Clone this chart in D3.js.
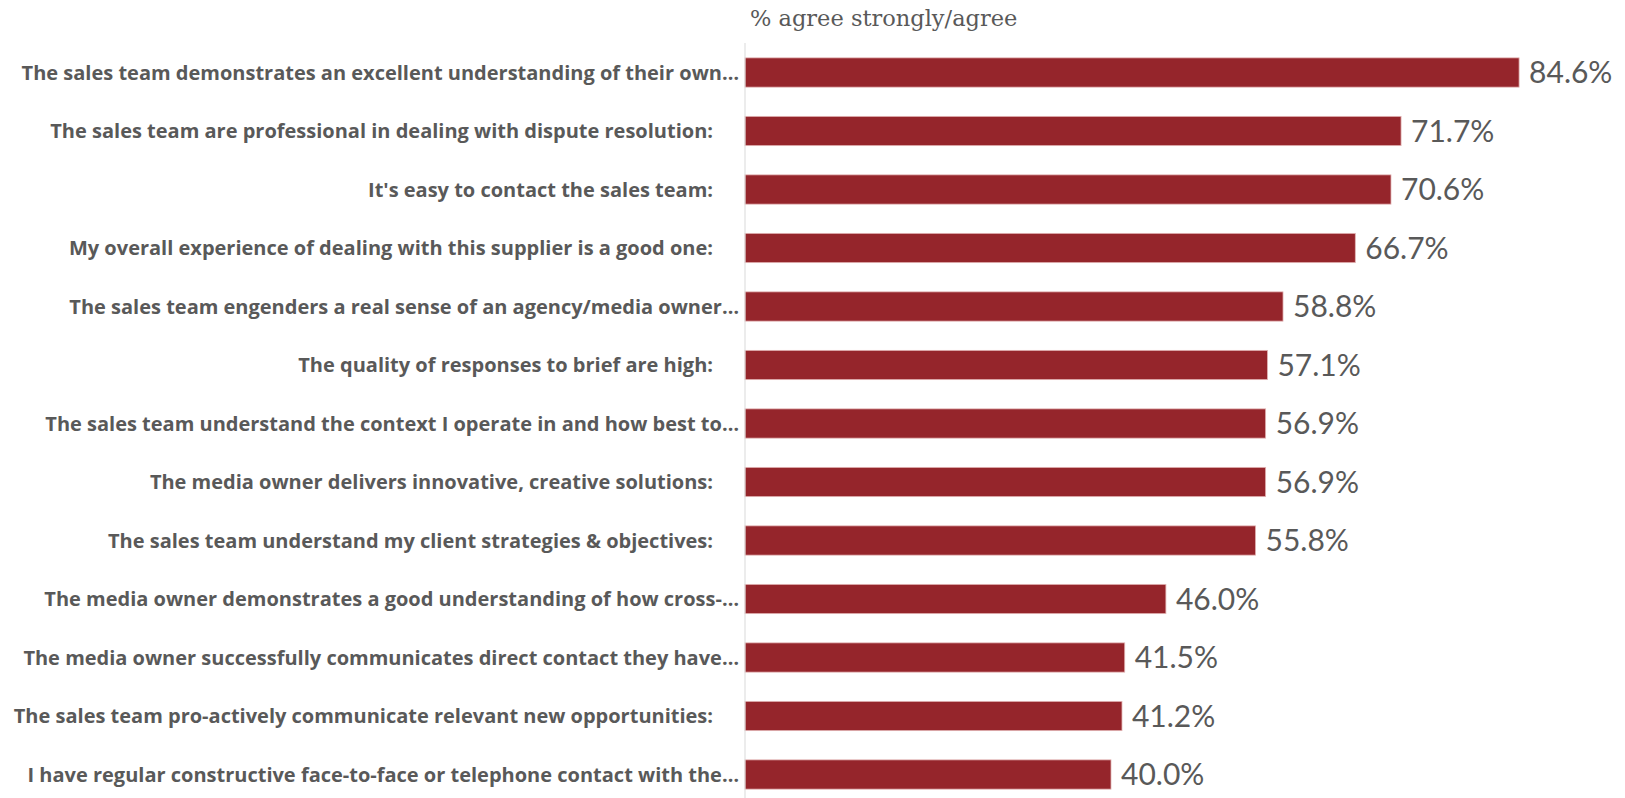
<!DOCTYPE html>
<html>
<head>
<meta charset="utf-8">
<script src="https://cdn.jsdelivr.net/npm/d3@7/dist/d3.min.js"></script>
<style>
  html, body { margin: 0; padding: 0; background: #fff; }
  svg { display: block; }
  .cat { white-space: pre; }
</style>
</head>
<body>
<svg id="chart" width="1625" height="798"></svg>
<script>
// Survey statements, top to bottom
const categories = [
  "The sales team demonstrates an excellent understanding of their own\u2026",
  "The sales team are professional in dealing with dispute resolution:     ",
  "It's easy to contact the sales team:     ",
  "My overall experience of dealing with this supplier is a good one:     ",
  "The sales team engenders a real sense of an agency/media owner\u2026",
  "The quality of responses to brief are high:     ",
  "The sales team understand the context I operate in and how best to\u2026",
  "The media owner delivers innovative, creative solutions:     ",
  "The sales team understand my client strategies & objectives:     ",
  "The media owner demonstrates a good understanding of how cross-\u2026",
  "The media owner successfully communicates direct contact they have\u2026",
  "The sales team pro-actively communicate relevant new opportunities:     ",
  "I have regular constructive face-to-face or telephone contact with the\u2026"
];

// % agree strongly/agree
const values = [84.6, 71.7, 70.6, 66.7, 58.8, 57.1, 56.9, 56.9, 55.8, 46.0, 41.5, 41.2, 40.0];

const title = "% agree strongly/agree";

const data = categories.map((c, i) => ({ label: c, value: values[i] }));

const svg = d3.select("#chart");

const x0 = 745;
const x = d3.scaleLinear().domain([0, 100]).range([x0, x0 + 915]);
const y = d3.scaleBand()
  .domain(d3.range(categories.length))
  .range([43.25, 803.75])
  .paddingInner(0.5)
  .paddingOuter(0.25);

// title above the plot
svg.append("text")
  .attr("x", 750)
  .attr("y", 26)
  .attr("font-family", "'DejaVu Serif', serif")
  .attr("font-size", 22.5)
  .attr("fill", "#595959")
  .text(title);

// bars
svg.append("g")
  .selectAll("rect")
  .data(data)
  .join("rect")
  .attr("x", x(0))
  .attr("y", (d, i) => y(i))
  .attr("width", d => x(d.value) - x(0))
  .attr("height", y.bandwidth())
  .attr("fill", "#95252b")
  .attr("stroke", "#e2b4b4")
  .attr("stroke-width", 0.8);

// vertical category axis line
svg.append("line")
  .attr("x1", x0).attr("x2", x0)
  .attr("y1", 43).attr("y2", 798)
  .attr("stroke", "#d9d9d9")
  .attr("stroke-width", 1);

// category labels
svg.append("g")
  .selectAll("text")
  .data(data)
  .join("text")
  .attr("class", "cat")
  .attr("x", 739)
  .attr("y", (d, i) => y(i) + y.bandwidth() / 2)
  .attr("dy", "0.35em")
  .attr("text-anchor", "end")
  .attr("font-family", "'Open Sans', sans-serif")
  .attr("font-weight", "bold")
  .attr("font-size", 20)
  .attr("fill", "#595959")
  .text(d => d.label);

// value labels
svg.append("g")
  .selectAll("text")
  .data(data)
  .join("text")
  .attr("x", d => x(d.value) + 10)
  .attr("y", (d, i) => y(i) + y.bandwidth() / 2)
  .attr("dy", "0.36em")
  .attr("font-family", "Lato, sans-serif")
  .attr("font-size", 30)
  .attr("fill", "#595959")
  .text(d => d.value.toFixed(1) + "%");
</script>
</body>
</html>
